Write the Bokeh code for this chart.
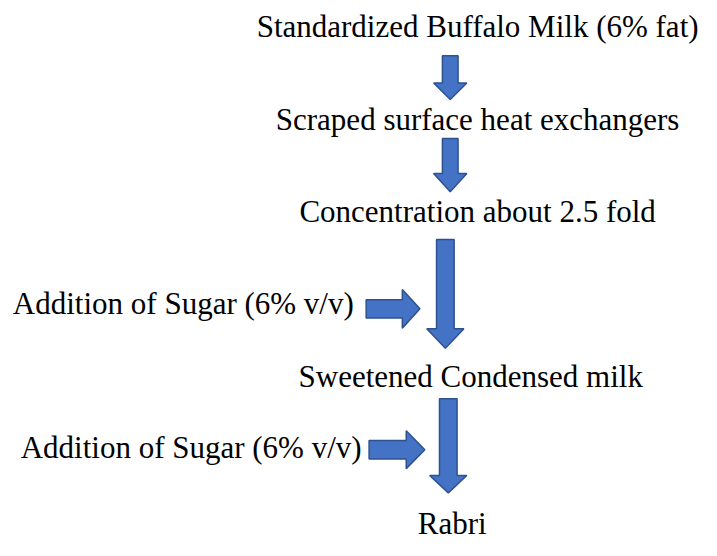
from bokeh.plotting import figure
from bokeh.models import Range1d, ColumnDataSource
from bokeh.core.properties import value
from bokeh.embed import file_html
from bokeh.resources import INLINE

# ---- data: flowchart steps ----
step_labels = [
    "Standardized Buffalo Milk (6% fat)",
    "Scraped surface heat exchangers",
    "Concentration about 2.5 fold",
    "Sweetened Condensed milk",
    "Rabri",
]
side_labels = [
    "Addition of Sugar (6% v/v)",
    "Addition of Sugar (6% v/v)",
]

# ---- layout (coordinates in the reference image's pixel frame) ----
step_cx = [488, 488, 488, 481, 462]
step_base = [27, 123, 217, 387, 538]
side_cx = [187, 195]
side_base = [312, 460]

# down arrows: (cx, shaft half width, head half width, top, head start, tip)
down_arrows = [
    (460, 8, 17, 57, 85, 102),
    (460, 8, 17, 142, 178, 197),
    (455, 9, 19, 246, 338, 358),
    (458, 9, 19, 410, 489, 507),
]
# right arrows: (cy, shaft half width, head half width, left, head start, tip)
right_arrows = [
    (317.5, 9.5, 20, 374, 411, 429),
    (462.5, 9.5, 19.5, 377, 415, 434),
]

W, H = 701, 540
p = figure(width=W, height=H, output_backend="svg", toolbar_location=None,
           x_range=Range1d(0, 717), y_range=Range1d(556, 0),
           min_border=0, outline_line_color=None)
p.axis.visible = False
p.grid.visible = False
p.background_fill_color = "white"
p.border_fill_color = "white"

xs, ys = [], []
for cx, sw, hw, y0, yh, yt in down_arrows:
    xs.append([cx - sw, cx + sw, cx + sw, cx + hw, cx, cx - hw, cx - sw])
    ys.append([y0, y0, yh, yh, yt, yh, yh])
for cy, sw, hw, x0, xh, xt in right_arrows:
    xs.append([x0, xh, xh, xt, xh, xh, x0])
    ys.append([cy - sw, cy - sw, cy - hw, cy, cy + hw, cy + sw, cy + sw])

p.patches(xs, ys, fill_color="#4472C4", line_color="#2F528F", line_width=1.5)

font = value("Liberation Serif")
src = ColumnDataSource(dict(x=step_cx + side_cx, y=step_base + side_base,
                            t=step_labels + side_labels))
p.text(x="x", y="y", text="t", source=src, text_font=font,
       text_font_size="31px", text_align="center", text_baseline="alphabetic",
       text_color="black")

open("out.html", "w").write(file_html(p, INLINE))
